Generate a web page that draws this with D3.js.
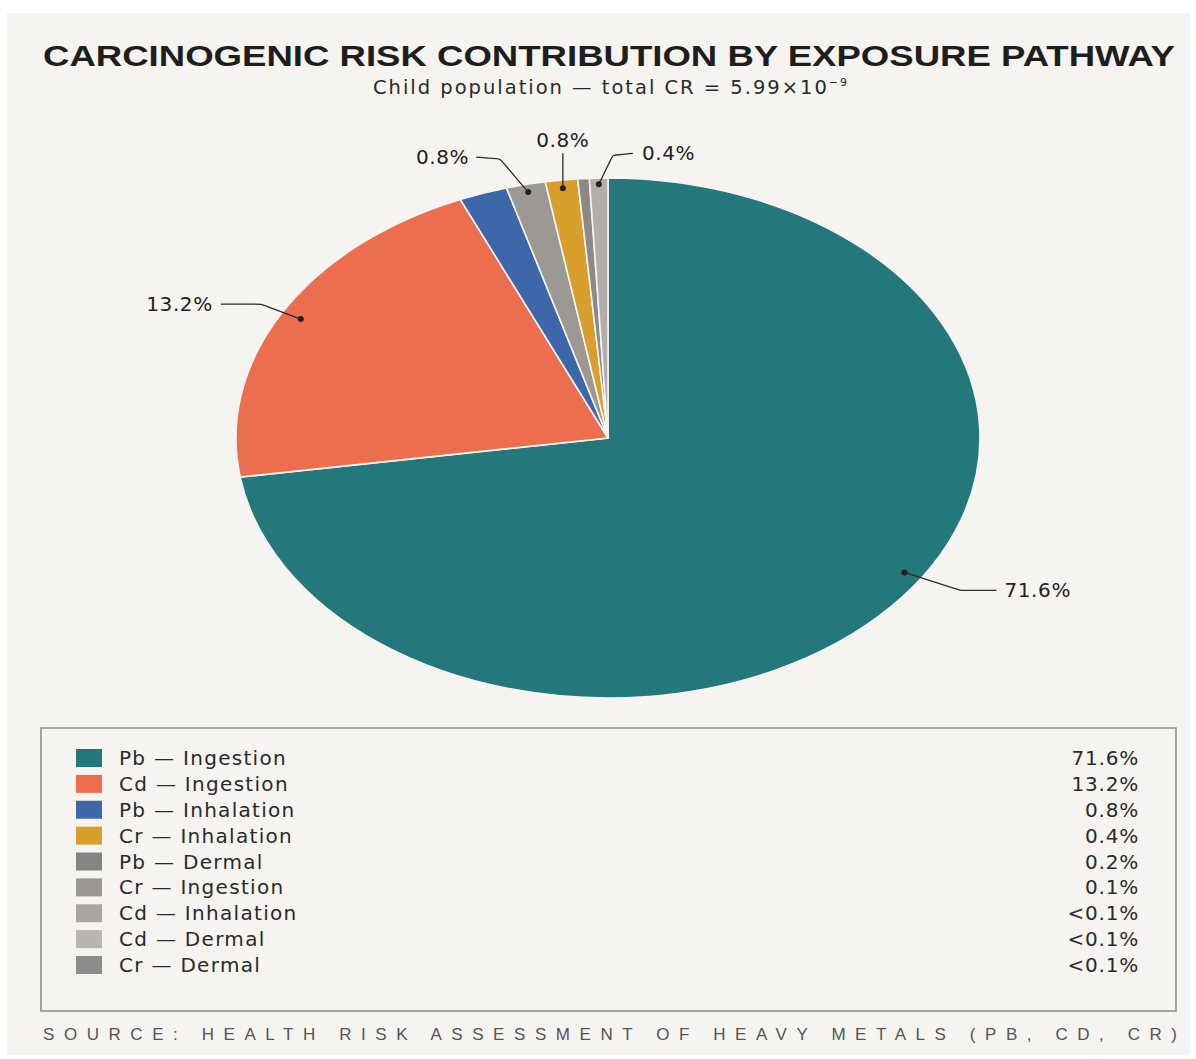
<!DOCTYPE html>
<html>
<head>
<meta charset="utf-8">
<script src="https://cdn.jsdelivr.net/npm/d3@7/dist/d3.min.js"></script>
<style>
  html, body { margin: 0; padding: 0; background: #ffffff; }
  svg { display: block; }
</style>
</head>
<body>
<svg id="chart" width="1196" height="1059"></svg>
<script>
// ---------- data ----------
const legendLabels = ["Pb \u2014 Ingestion", "Cd \u2014 Ingestion", "Pb \u2014 Inhalation", "Cr \u2014 Inhalation",
  "Pb \u2014 Dermal", "Cr \u2014 Ingestion", "Cd \u2014 Inhalation", "Cd \u2014 Dermal", "Cr \u2014 Dermal"];
const legendValues = ["71.6%", "13.2%", "0.8%", "0.4%", "0.2%", "0.1%", "<0.1%", "<0.1%", "<0.1%"];
const legendColors = ["#24787c", "#ec6e4e", "#3d67a8", "#d89f2c", "#868482", "#9a9692", "#aca59f", "#bbb5b1", "#8e8d8c"];

// pie slices as drawn (share of the circle), clockwise from 12 o'clock
const sliceNames  = ["Pb \u2014 Ingestion", "Cd \u2014 Ingestion", "Pb \u2014 Inhalation", "Cr \u2014 Ingestion",
  "Cr \u2014 Inhalation", "Pb \u2014 Dermal", "Cd \u2014 Inhalation"];
const sliceValues = [72.6, 20.9, 2.1, 1.7, 1.4, 0.5, 0.8];
const sliceColors = ["#24787c", "#ec6e4e", "#3d67a8", "#9c9894", "#d89f2c", "#8c8a88", "#b3aeaa"];

// callout labels on the pie: slice index and text
const calloutSlices = [0, 1, 3, 4, 6];
const calloutTexts  = ["71.6%", "13.2%", "0.8%", "0.8%", "0.4%"];

const titleText = "CARCINOGENIC RISK CONTRIBUTION BY EXPOSURE PATHWAY";
const sourceText = "SOURCE: HEALTH RISK ASSESSMENT OF HEAVY METALS (PB, CD, CR)";

// ---------- layout ----------
const svg = d3.select("#chart");
const BG = "#f5f4f0";
const FONT = "'DejaVu Sans', 'Noto Sans', sans-serif";

svg.append("rect").attr("x", 7).attr("y", 13).attr("width", 1183).attr("height", 1042).attr("fill", BG);

function fitSpacing(sel, target) {
  sel.attr("letter-spacing", 0);
  const node = sel.node();
  const w = node.getComputedTextLength();
  const n = node.textContent.length;
  sel.attr("letter-spacing", (target - w) / Math.max(1, n - 1));
}

// title
svg.append("text")
  .attr("x", 43).attr("y", 66)
  .attr("font-family", "'Liberation Sans', Arial, sans-serif")
  .attr("font-weight", 700).attr("font-size", 29).attr("fill", "#1e1e1e")
  .attr("textLength", 1132).attr("lengthAdjust", "spacingAndGlyphs")
  .text(titleText);

// subtitle
const sub = svg.append("text")
  .attr("x", 373).attr("y", 94)
  .attr("font-family", FONT).attr("font-size", 19.5).attr("fill", "#2a2a2a");
sub.append("tspan").text("Child population \u2014 total CR = 5.99\u00d710");
sub.append("tspan").attr("dy", -8).attr("font-size", 11).text("\u22129");
(function () {
  const w = sub.node().getBBox().width;
  const n = sub.node().textContent.length;
  sub.attr("letter-spacing", (474 - w) / (n - 1));
})();

// ---------- pie ----------
const cx = 608, cy = 438, rx = 372, ry = 260;
const pie = d3.pie().sort(null).value(d => d)(sliceValues);
const arc = d3.arc().innerRadius(0).outerRadius(ry);

const pieG = svg.append("g").attr("transform", `translate(${cx},${cy}) scale(${rx / ry},1)`);
pieG.selectAll("path").data(pie).join("path")
  .attr("d", arc)
  .attr("fill", (d, i) => sliceColors[i])
  .attr("stroke", BG)
  .attr("stroke-width", 1.6)
  .attr("vector-effect", "non-scaling-stroke");

// callout geometry (offsets from the anchor dot)
const calloutLayout = [
  { angleShift: -7.7, r: 0.95, pts: [[56, 18], [92, 18]], anchor: "start", tdx: 8, tdy: 7 },
  { angleShift: 0, r: 0.944, pts: [[-40, -15], [-80, -15]], anchor: "end", tdx: -8, tdy: 7 },
  { angleShift: 0, r: 0.97, pts: [[-28, -33], [-52, -35]], anchor: "end", tdx: -7, tdy: 7 },
  { angleShift: 0, r: 0.968, pts: [[0, -18], [0, -35]], anchor: "middle", tdx: 0, tdy: -6 },
  { angleShift: 0, r: 0.976, pts: [[14, -29], [34, -31]], anchor: "start", tdx: 9, tdy: 7 }
];

function anchorPoint(d, L) {
  const a = (d.startAngle + d.endAngle) / 2 + L.angleShift * Math.PI / 180;
  return [cx + L.r * rx * Math.sin(a), cy - L.r * ry * Math.cos(a)];
}

const lineGen = d3.line().curve(d3.curveBasis);
calloutSlices.forEach((si, k) => {
  const d = pie[si];
  const L = calloutLayout[k];
  const p0 = anchorPoint(d, L);
  const pts = [p0].concat(L.pts.map(o => [p0[0] + o[0], p0[1] + o[1]]));
  const linePts = (L.pts[0][0] === 0) ? pts : [pts[0], pts[1], pts[1], pts[2]];
  svg.append("path")
    .attr("d", lineGen(linePts))
    .attr("fill", "none").attr("stroke", "#2b2b2b").attr("stroke-width", 1.3);
  svg.append("circle").attr("cx", p0[0]).attr("cy", p0[1]).attr("r", 3).attr("fill", "#222");
  const end = pts[pts.length - 1];
  svg.append("text")
    .attr("x", end[0] + L.tdx).attr("y", end[1] + L.tdy)
    .attr("text-anchor", L.anchor)
    .attr("font-family", FONT).attr("font-size", 20).attr("fill", "#222")
    .attr("letter-spacing", 0.6)
    .text(calloutTexts[k]);
});

// ---------- legend ----------
svg.append("rect").attr("x", 41).attr("y", 728).attr("width", 1135).attr("height", 283)
  .attr("fill", "none").attr("stroke", "#8a8a8a").attr("stroke-width", 1.5);

const rowY = d3.scalePoint().domain(d3.range(legendLabels.length)).range([758, 965]);
const lg = svg.append("g");
legendLabels.forEach((lab, i) => {
  const y = rowY(i);
  lg.append("rect").attr("x", 76).attr("y", y - 9).attr("width", 26).attr("height", 18)
    .attr("fill", legendColors[i]);
  lg.append("text").attr("x", 119).attr("y", y + 7)
    .attr("font-family", FONT).attr("font-size", 20).attr("fill", "#2a2a2a")
    .attr("letter-spacing", 1.3)
    .text(lab);
  lg.append("text").attr("x", 1139).attr("y", y + 7).attr("text-anchor", "end")
    .attr("font-family", FONT).attr("font-size", 20).attr("fill", "#2a2a2a")
    .attr("letter-spacing", 0.8)
    .text(legendValues[i]);
});

// source
const src = svg.append("text")
  .attr("x", 43).attr("y", 1040)
  .attr("font-family", "'Liberation Sans', Arial, sans-serif").attr("font-size", 17).attr("fill", "#555")
  .text(sourceText);
fitSpacing(src, 1134);
</script>
</body>
</html>
